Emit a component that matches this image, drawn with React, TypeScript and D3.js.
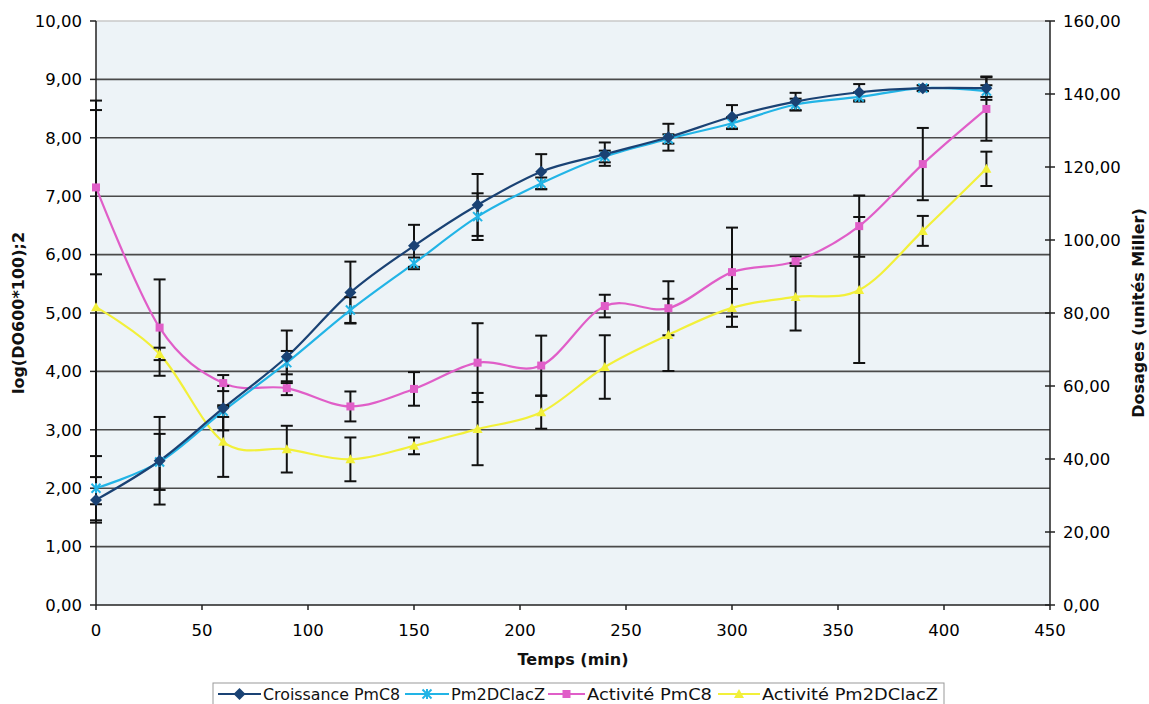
import React from 'react';
import * as d3 from 'd3';

// temps en minutes
const times = [0, 30, 60, 90, 120, 150, 180, 210, 240, 270, 300, 330, 360, 390, 420];

// croissance, axe de gauche (log)
const croissancePmC8 = [1.8, 2.47, 3.37, 4.25, 5.35, 6.15, 6.85, 7.42, 7.72, 8.01, 8.36, 8.62, 8.78, 8.85, 8.85];
const errCroissancePmC8 = [0.39, 0.75, 0.38, 0.45, 0.53, 0.36, 0.53, 0.3, 0.2, 0.23, 0.2, 0.15, 0.14, 0.05, 0.2];
const pm2DClacZ = [2.0, 2.45, 3.32, 4.15, 5.05, 5.85, 6.65, 7.22, 7.68, 7.98, 8.25, 8.57, 8.7, 8.85, 8.8];
const errPm2DClacZ = [0.55, 0.48, 0.1, 0.2, 0.22, 0.1, 0.4, 0.1, 0.1, 0.08, 0.1, 0.1, 0.08, 0.05, 0.1];

// activités, axe de droite (unités Miller)
const activitePmC8 = [114.4, 76.0, 60.8, 59.4, 54.4, 59.2, 66.4, 65.6, 81.9, 81.3, 91.2, 94.2, 103.8, 120.8, 135.9];
const errActivitePmC8 = [23.8, 13.2, 2.2, 1.9, 4.1, 4.6, 10.8, 8.2, 3.1, 7.4, 12.2, 1.3, 8.4, 9.9, 8.7];
const activitePm2D = [81.6, 68.8, 44.7, 42.7, 39.9, 43.6, 48.2, 52.8, 65.2, 74.0, 81.4, 84.4, 86.3, 102.5, 119.5];
const errActivitePm2D = [54, 1.7, 9.6, 6.4, 6.0, 2.3, 9.9, 4.5, 8.7, 9.9, 5.2, 9.2, 20, 4.1, 4.7];

const xTicks = [0, 50, 100, 150, 200, 250, 300, 350, 400, 450];
const leftTicks = [0, 1, 2, 3, 4, 5, 6, 7, 8, 9, 10];
const rightTicks = [0, 20, 40, 60, 80, 100, 120, 140, 160];

const FONT = '"DejaVu Sans", Verdana, sans-serif';
const fmt = (v: number) => d3.format('.2f')(v).replace('.', ',');

const x = d3.scaleLinear().domain([0, 450]).range([96, 1050]);
const yL = d3.scaleLinear().domain([0, 10]).range([605, 21]);
const yR = d3.scaleLinear().domain([0, 160]).range([605, 21]);

const Marker = ({ kind, cx, cy, color }: { kind: string; cx: number; cy: number; color: string }) => {
  if (kind === 'diamond') {
    return <path d={`M${cx},${cy - 6}L${cx + 6},${cy}L${cx},${cy + 6}L${cx - 6},${cy}Z`} fill={color} />;
  }
  if (kind === 'x') {
    return (
      <g stroke={color} strokeWidth={2}>
        <line x1={cx - 4.5} y1={cy - 4.5} x2={cx + 4.5} y2={cy + 4.5} />
        <line x1={cx - 4.5} y1={cy + 4.5} x2={cx + 4.5} y2={cy - 4.5} />
        <line x1={cx} y1={cy - 5} x2={cx} y2={cy + 5} />
      </g>
    );
  }
  if (kind === 'square') {
    return <rect x={cx - 4} y={cy - 4} width={8} height={8} fill={color} />;
  }
  return <path d={`M${cx},${cy - 5}L${cx + 5},${cy + 4}L${cx - 5},${cy + 4}Z`} fill={color} />;
};

const series = [
  { name: 'Croissance PmC8', values: croissancePmC8, err: errCroissancePmC8, y: yL, color: '#1a4274', marker: 'diamond' },
  { name: 'Pm2DClacZ', values: pm2DClacZ, err: errPm2DClacZ, y: yL, color: '#22b4e6', marker: 'x' },
  { name: 'Activité PmC8', values: activitePmC8, err: errActivitePmC8, y: yR, color: '#e05ec8', marker: 'square' },
  { name: 'Activité Pm2DClacZ', values: activitePm2D, err: errActivitePm2D, y: yR, color: '#f2f03a', marker: 'triangle' },
];

const legendPos = [
  { line: 218, text: 263, width: 137 },
  { line: 405, text: 451, width: 94 },
  { line: 548, text: 587, width: 125 },
  { line: 718, text: 762, width: 176 },
];

export default function App() {
  const drawOrder = [3, 2, 1, 0];
  return (
    <svg width={1149} height={704} style={{ position: 'absolute', left: 0, top: 0, background: '#fff' }}>
      <rect x={96} y={21} width={954} height={584} fill="#edf3f7" />
      <line x1={96} x2={1050} y1={21} y2={21} stroke="#c8c8c8" strokeWidth={1.5} />
      {leftTicks.slice(1, -1).map((t) => (
        <line key={t} x1={96} x2={1050} y1={yL(t)} y2={yL(t)} stroke="#4a4a4a" strokeWidth={1.6} />
      ))}

      {/* axes */}
      <line x1={96} x2={96} y1={21} y2={605} stroke="#222" strokeWidth={1.5} />
      <line x1={1050} x2={1050} y1={21} y2={605} stroke="#222" strokeWidth={1.5} />
      <line x1={96} x2={1050} y1={605} y2={605} stroke="#222" strokeWidth={1.5} />
      {leftTicks.map((t) => (
        <g key={t}>
          <line x1={90} x2={96} y1={yL(t)} y2={yL(t)} stroke="#222" strokeWidth={1.5} />
          <text x={82} y={yL(t)} dy="0.35em" textAnchor="end" fontFamily={FONT} fontSize={16.5} fill="#000">
            {fmt(t)}
          </text>
        </g>
      ))}
      {rightTicks.map((t) => (
        <g key={t}>
          <line x1={1045} x2={1055} y1={yR(t)} y2={yR(t)} stroke="#222" strokeWidth={1.5} />
          <text x={1063} y={yR(t)} dy="0.35em" textAnchor="start" fontFamily={FONT} fontSize={16.5} fill="#000">
            {fmt(t)}
          </text>
        </g>
      ))}
      {xTicks.map((t) => (
        <g key={t}>
          <line x1={x(t)} x2={x(t)} y1={605} y2={610} stroke="#222" strokeWidth={1.5} />
          <text x={x(t)} y={636} textAnchor="middle" fontFamily={FONT} fontSize={16.5} fill="#000">
            {t}
          </text>
        </g>
      ))}

      {/* titres */}
      <text x={573} y={665} textAnchor="middle" fontFamily={FONT} fontSize={16} fontWeight="bold" fill="#111">
        Temps (min)
      </text>
      <text transform="translate(24,313) rotate(-90)" textAnchor="middle" fontFamily={FONT} fontSize={16} fontWeight="bold" fill="#111">
        log(DO600*100);2
      </text>
      <text transform="translate(1144,313) rotate(-90)" textAnchor="middle" fontFamily={FONT} fontSize={16} fontWeight="bold" fill="#111">
        Dosages (unités Miller)
      </text>

      {/* séries */}
      {drawOrder.map((si) => {
        const s = series[si];
        const line = d3
          .line<number>()
          .x((_, i) => x(times[i]))
          .y((v) => s.y(v))
          .curve(d3.curveCardinal);
        return <path key={s.name} d={line(s.values) || ''} fill="none" stroke={s.color} strokeWidth={2.2} />;
      })}
      {drawOrder.map((si) => {
        const s = series[si];
        return (
          <g key={s.name + '-err'} stroke="#111" strokeWidth={2}>
            {s.values.map((v, i) => {
              const cx = x(times[i]);
              const top = s.y(v + s.err[i]);
              const bot = s.y(v - s.err[i]);
              return (
                <g key={i}>
                  <line x1={cx} x2={cx} y1={top} y2={bot} />
                  <line x1={cx - 6} x2={cx + 6} y1={top} y2={top} />
                  <line x1={cx - 6} x2={cx + 6} y1={bot} y2={bot} />
                </g>
              );
            })}
          </g>
        );
      })}
      {drawOrder.map((si) => {
        const s = series[si];
        return (
          <g key={s.name + '-m'}>
            {s.values.map((v, i) => (
              <Marker key={i} kind={s.marker} cx={x(times[i])} cy={s.y(v)} color={s.color} />
            ))}
          </g>
        );
      })}

      {/* légende */}
      <rect x={213} y={683} width={731} height={30} fill="#fff" stroke="#999" strokeWidth={1} />
      {series.map((s, i) => {
        const p = legendPos[i];
        const mid = (p.line + p.text - 2) / 2;
        return (
          <g key={s.name + '-leg'}>
            <line x1={p.line} x2={p.text - 2} y1={694} y2={694} stroke={s.color} strokeWidth={2.2} />
            <Marker kind={s.marker} cx={mid} cy={694} color={s.color} />
            <text x={p.text} y={700} fontFamily={FONT} fontSize={16} fill="#111" textLength={p.width} lengthAdjust="spacingAndGlyphs">
              {s.name}
            </text>
          </g>
        );
      })}
    </svg>
  );
}
